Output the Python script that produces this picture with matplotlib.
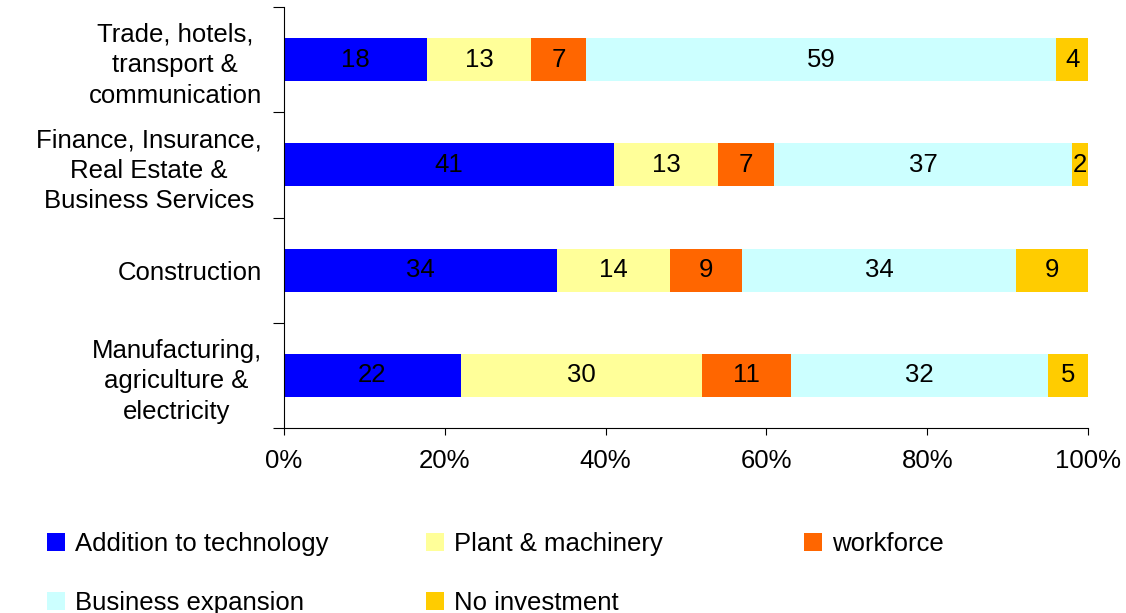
import matplotlib.pyplot as plt
import numpy as np
from matplotlib.ticker import FixedLocator, PercentFormatter

plt.rcParams["font.family"] = ["Liberation Sans", "DejaVu Sans"]

# bottom to top
sectors = [
    "Manufacturing,\nagriculture &\nelectricity",
    "Construction",
    "Finance, Insurance,\nReal Estate &\nBusiness Services",
    "Trade, hotels,\ntransport &\ncommunication",
]
series_names = [
    "Addition to technology",
    "Plant & machinery",
    "workforce",
    "Business expansion",
    "No investment",
]
technology = [22, 34, 41, 18]
machinery = [30, 14, 13, 13]
workforce = [11, 9, 7, 7]
expansion = [32, 34, 37, 59]
no_investment = [5, 9, 2, 4]
colors = ["#0000FF", "#FFFF99", "#FF6600", "#CCFFFF", "#FFCC00"]

values = np.array([technology, machinery, workforce, expansion, no_investment], dtype=float)
shares = values / values.sum(axis=0) * 100

fig = plt.figure(figsize=(11.26, 6.13), dpi=100)
ax = fig.add_axes([284 / 1126, 1 - 428 / 613, (1088 - 284) / 1126, (428 - 7) / 613])

fs = 18.5
y = np.arange(len(sectors))
left = np.zeros(len(sectors))
handles = []
for name, vals, share, col in zip(series_names, values, shares, colors):
    bars = ax.barh(y, share, left=left, height=0.41, color=col, label=name)
    handles.append(bars)
    for yi, l, s, v in zip(y, left, share, vals):
        ax.text(l + s / 2, yi, f"{v:g}", ha="center", va="center", fontsize=fs, color="black")
    left += share

ax.set_xlim(0, 100)
ax.set_ylim(-0.5, len(sectors) - 0.5)
ax.xaxis.set_major_formatter(PercentFormatter(decimals=0))
ax.set_xticks(np.arange(0, 101, 20))
ax.tick_params(axis="x", labelsize=fs, length=5, pad=10, direction="out")

ax.yaxis.set_major_locator(FixedLocator(np.arange(-0.5, len(sectors), 1.0)))
ax.yaxis.set_major_formatter(plt.NullFormatter())
ax.yaxis.set_minor_locator(FixedLocator(y))
ax.set_yticklabels(sectors, minor=True, fontsize=fs, multialignment="center", linespacing=1.35)
ax.tick_params(axis="y", which="major", length=8, direction="out")
ax.tick_params(axis="y", which="minor", length=0, pad=16)

for side in ["top", "right"]:
    ax.spines[side].set_visible(False)

# legend laid out in three fixed-width columns like the source
order = [[0, 3], [1, 4], [2]]
col_x = [47, 426, 804]
for cx, idx in zip(col_x, order):
    fig.legend(
        [handles[i] for i in idx],
        [series_names[i] for i in idx],
        loc="upper left",
        bbox_to_anchor=(cx / 1126, 1 - 532 / 613),
        frameon=False,
        fontsize=fs,
        handlelength=0.7,
        handleheight=0.7,
        handletextpad=0.4,
        labelspacing=1.35,
        borderaxespad=0,
        borderpad=0,
    )

fig.savefig("out.png", dpi=100)
